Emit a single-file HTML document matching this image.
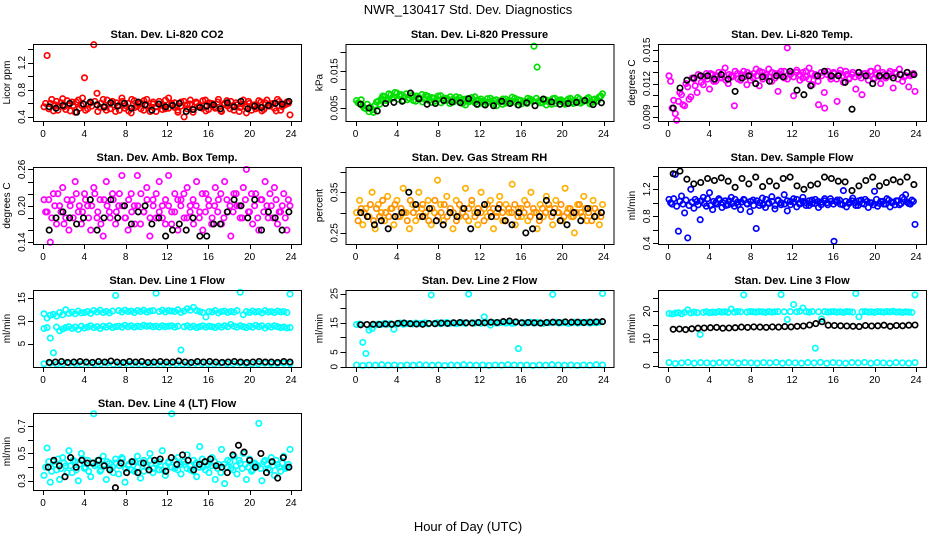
<!DOCTYPE html>
<html><head><meta charset="utf-8"><style>
html,body{margin:0;padding:0;background:#fff;}
svg{display:block;font-family:"Liberation Sans",sans-serif;}
</style></head><body>
<svg id="chart" width="936" height="540" viewBox="0 0 936 540">
<text x="468" y="14" text-anchor="middle" font-size="13">NWR_130417  Std. Dev. Diagnostics</text>
<text x="468" y="531" text-anchor="middle" font-size="13">Hour of Day (UTC)</text>
</svg>
<script>
const hourTicks = [0,4,8,12,16,20,24];

const co2Red = [0.55,1.31,0.60,0.49,0.63,0.56,0.67,0.51,0.58,0.62,0.47,0.65,0.57,0.98,0.52,0.61,1.47,0.75,0.54,0.66,0.50,0.59,0.63,0.48,0.57,0.68,0.53,0.60,0.46,0.64,0.56,0.61,0.50,0.66,0.55,0.59,0.48,0.63,0.57,0.52,0.68,0.60,0.54,0.47,0.62,0.40,0.58,0.65,0.51,0.60,0.55,0.64,0.49,0.61,0.57,0.53,0.66,0.48,0.60,0.56,0.63,0.50,0.58,0.54,0.65,0.46,0.60,0.57,0.52,0.64,0.49,0.61,0.56,0.59,0.53,0.66,0.50,0.58,0.62,0.43];
const co2Red2 = [0.60,0.52,0.66,0.58,0.50,0.61,0.55,0.64,0.49,0.57,0.62,0.53,0.68,0.50,0.59,0.56,0.63,0.48,0.60,0.54,0.65,0.52,0.58,0.61,0.50,0.63,0.57,0.49,0.66,0.54,0.60,0.52,0.64,0.57,0.48,0.62,0.55,0.59,0.51,0.65,0.53,0.58,0.61,0.50,0.56,0.63,0.52,0.59,0.47,0.62,0.57,0.53,0.65,0.51,0.60,0.55,0.62,0.49,0.58,0.64,0.52,0.57,0.61,0.48,0.59,0.55,0.63,0.50,0.58,0.54,0.62,0.51,0.65,0.56,0.60,0.49,0.63,0.55,0.58,0.60];
const co2Black = [0.55,0.53,0.57,0.60,0.47,0.59,0.62,0.58,0.55,0.61,0.56,0.60,0.53,0.62,0.58,0.50,0.59,0.55,0.57,0.60,0.48,0.51,0.54,0.56,0.58,0.52,0.61,0.55,0.63,0.52,0.56,0.54,0.57,0.60,0.59,0.63];

const pressGreen = [0.0070,0.0062,0.0055,0.0048,0.0040,0.0045,0.0058,0.0068,0.0075,0.0080,0.0072,0.0085,0.0078,0.0090,0.0082,0.0070,0.0088,0.0076,0.0084,0.0068,0.0079,0.0086,0.0073,0.0081,0.0065,0.0077,0.0072,0.0083,0.0069,0.0076,0.0062,0.0074,0.0080,0.0067,0.0073,0.0058,0.0070,0.0078,0.0064,0.0072,0.0068,0.0060,0.0075,0.0066,0.0071,0.0056,0.0069,0.0074,0.0063,0.0070,0.0079,0.0065,0.0072,0.0061,0.0068,0.0076,0.0070,0.0216,0.0160,0.0064,0.0073,0.0058,0.0069,0.0075,0.0062,0.0071,0.0067,0.0060,0.0074,0.0065,0.0070,0.0078,0.0063,0.0069,0.0075,0.0061,0.0072,0.0068,0.0080,0.0088];
const pressGreen2 = [0.0064,0.0072,0.0050,0.0060,0.0052,0.0038,0.0066,0.0060,0.0082,0.0070,0.0088,0.0076,0.0092,0.0074,0.0086,0.0080,0.0072,0.0090,0.0070,0.0082,0.0074,0.0066,0.0084,0.0070,0.0078,0.0068,0.0082,0.0064,0.0076,0.0070,0.0080,0.0066,0.0072,0.0078,0.0062,0.0074,0.0066,0.0070,0.0080,0.0060,0.0074,0.0068,0.0064,0.0076,0.0062,0.0072,0.0066,0.0060,0.0074,0.0064,0.0068,0.0076,0.0058,0.0070,0.0066,0.0062,0.0074,0.0068,0.0076,0.0070,0.0064,0.0072,0.0066,0.0060,0.0076,0.0068,0.0072,0.0064,0.0070,0.0076,0.0062,0.0068,0.0074,0.0066,0.0070,0.0078,0.0064,0.0074,0.0070,0.0082];
const pressBlack = [0.0060,0.0050,0.0042,0.0062,0.0065,0.0068,0.0090,0.0075,0.0060,0.0062,0.0070,0.0066,0.0064,0.0075,0.0060,0.0058,0.0056,0.0068,0.0062,0.0058,0.0064,0.0056,0.0074,0.0066,0.0060,0.0062,0.0065,0.0070,0.0059,0.0064];

const tempMagenta = [0.0127,0.0098,0.0093,0.0104,0.0110,0.0100,0.0117,0.0108,0.0124,0.0112,0.0127,0.0119,0.0129,0.0115,0.0128,0.0122,0.0130,0.0125,0.0134,0.0120,0.0127,0.0100,0.0129,0.0123,0.0131,0.0119,0.0128,0.0125,0.0133,0.0118,0.0130,0.0126,0.0133,0.0122,0.0129,0.0113,0.0131,0.0125,0.0152,0.0128,0.0109,0.0132,0.0123,0.0130,0.0126,0.0134,0.0119,0.0128,0.0101,0.0127,0.0098,0.0131,0.0124,0.0129,0.0104,0.0132,0.0121,0.0128,0.0125,0.0130,0.0115,0.0127,0.0110,0.0129,0.0123,0.0131,0.0125,0.0134,0.0120,0.0128,0.0126,0.0131,0.0116,0.0129,0.0133,0.0122,0.0127,0.0117,0.0128,0.0113];
const tempMagenta2 = [0.0122,0.0105,0.0087,0.0112,0.0101,0.0120,0.0106,0.0125,0.0118,0.0128,0.0121,0.0126,0.0124,0.0129,0.0122,0.0127,0.0125,0.0130,0.0123,0.0128,0.0126,0.0131,0.0124,0.0128,0.0126,0.0130,0.0123,0.0129,0.0127,0.0131,0.0124,0.0128,0.0126,0.0130,0.0125,0.0129,0.0127,0.0131,0.0124,0.0129,0.0126,0.0130,0.0128,0.0125,0.0131,0.0124,0.0129,0.0127,0.0122,0.0130,0.0112,0.0128,0.0126,0.0130,0.0124,0.0129,0.0127,0.0131,0.0124,0.0128,0.0126,0.0130,0.0125,0.0129,0.0127,0.0131,0.0124,0.0128,0.0126,0.0130,0.0125,0.0129,0.0127,0.0130,0.0124,0.0128,0.0126,0.0130,0.0127,0.0129];
const tempBlack = [0.0098,0.0116,0.0123,0.0125,0.0127,0.0127,0.0124,0.0128,0.0124,0.0113,0.0125,0.0127,0.0120,0.0126,0.0122,0.0127,0.0126,0.0131,0.0114,0.0110,0.0118,0.0127,0.0131,0.0127,0.0127,0.0121,0.0097,0.0130,0.0127,0.0120,0.0127,0.0127,0.0125,0.0128,0.0130,0.0128];

const ambMagenta = [0.21,0.19,0.14,0.22,0.17,0.20,0.23,0.18,0.16,0.21,0.24,0.19,0.17,0.22,0.20,0.16,0.23,0.18,0.21,0.15,0.24,0.19,0.22,0.17,0.20,0.25,0.18,0.16,0.22,0.20,0.25,0.17,0.19,0.23,0.15,0.21,0.18,0.24,0.20,0.17,0.25,0.19,0.22,0.16,0.21,0.18,0.23,0.20,0.17,0.24,0.19,0.16,0.22,0.20,0.18,0.23,0.21,0.17,0.24,0.19,0.15,0.22,0.20,0.18,0.23,0.26,0.19,0.17,0.22,0.16,0.21,0.24,0.18,0.20,0.23,0.17,0.19,0.22,0.16,0.20];
const ambMagenta2 = [0.19,0.21,0.18,0.20,0.22,0.19,0.17,0.21,0.20,0.18,0.22,0.20,0.19,0.21,0.18,0.20,0.22,0.19,0.17,0.21,0.20,0.18,0.21,0.19,0.22,0.20,0.18,0.21,0.19,0.17,0.20,0.22,0.19,0.21,0.18,0.20,0.22,0.19,0.18,0.21,0.20,0.17,0.19,0.21,0.20,0.22,0.18,0.19,0.21,0.20,0.18,0.22,0.19,0.21,0.17,0.20,0.19,0.22,0.18,0.21,0.20,0.19,0.22,0.20,0.18,0.21,0.19,0.22,0.20,0.18,0.21,0.19,0.20,0.22,0.18,0.21,0.19,0.20,0.18,0.21];
const ambBlack = [0.16,0.18,0.19,0.18,0.17,0.18,0.21,0.16,0.18,0.21,0.18,0.20,0.17,0.19,0.20,0.17,0.18,0.15,0.16,0.17,0.16,0.18,0.15,0.15,0.17,0.17,0.19,0.21,0.20,0.18,0.21,0.16,0.19,0.18,0.16,0.19];

const rhOrange = [0.30,0.33,0.27,0.31,0.29,0.35,0.26,0.32,0.30,0.28,0.34,0.31,0.27,0.33,0.29,0.36,0.30,0.26,0.32,0.28,0.35,0.31,0.29,0.33,0.27,0.30,0.38,0.32,0.28,0.34,0.30,0.26,0.33,0.29,0.31,0.36,0.28,0.32,0.30,0.27,0.35,0.31,0.29,0.33,0.26,0.30,0.34,0.28,0.32,0.30,0.37,0.27,0.31,0.29,0.33,0.28,0.35,0.30,0.26,0.32,0.29,0.34,0.31,0.27,0.33,0.30,0.28,0.36,0.31,0.29,0.25,0.32,0.30,0.34,0.28,0.31,0.33,0.29,0.27,0.32];
const rhOrange2 = [0.28,0.31,0.30,0.29,0.32,0.28,0.31,0.29,0.33,0.30,0.29,0.31,0.32,0.29,0.31,0.30,0.28,0.33,0.30,0.31,0.29,0.32,0.30,0.28,0.31,0.33,0.29,0.30,0.32,0.29,0.31,0.30,0.28,0.32,0.30,0.29,0.31,0.33,0.29,0.31,0.30,0.28,0.32,0.30,0.31,0.29,0.32,0.30,0.28,0.31,0.30,0.32,0.29,0.31,0.30,0.32,0.29,0.31,0.30,0.28,0.31,0.30,0.32,0.29,0.31,0.30,0.32,0.29,0.30,0.31,0.29,0.30,0.32,0.29,0.31,0.30,0.28,0.31,0.30,0.29];
const rhBlack = [0.30,0.29,0.27,0.28,0.26,0.29,0.30,0.35,0.32,0.29,0.31,0.28,0.27,0.30,0.29,0.31,0.26,0.30,0.32,0.29,0.31,0.28,0.27,0.30,0.25,0.26,0.29,0.33,0.30,0.28,0.27,0.30,0.28,0.31,0.29,0.30];

const flowBlue = [1.05,0.98,1.42,0.58,1.10,0.85,0.48,1.20,0.92,1.02,0.75,1.08,0.95,1.15,0.90,1.00,1.06,0.93,1.03,0.97,1.08,0.95,1.01,0.90,1.05,0.99,0.87,1.04,0.62,0.96,1.07,0.93,1.00,1.09,0.91,1.03,0.97,1.12,0.88,1.02,1.06,0.94,1.00,1.08,0.96,1.03,0.99,1.05,0.93,1.01,1.06,0.97,1.02,0.43,1.04,0.98,1.18,0.94,1.01,1.07,0.96,1.03,0.99,1.05,0.93,1.00,1.17,0.95,1.02,0.98,1.06,0.94,1.01,1.03,0.97,1.08,1.12,0.99,1.04,0.68];
const flowBlue2 = [1.00,1.06,0.95,1.02,0.98,1.04,0.96,1.01,1.05,0.97,1.03,0.99,1.06,0.96,1.02,0.98,1.04,1.00,0.96,1.03,0.99,1.05,0.97,1.01,1.04,0.98,1.02,0.96,1.03,1.00,0.97,1.05,0.99,1.02,0.96,1.04,1.00,0.98,1.03,0.97,1.01,1.05,0.98,1.02,1.00,0.96,1.04,0.99,1.02,0.97,1.03,1.00,1.06,0.98,1.01,1.04,0.97,1.02,0.99,1.03,1.00,0.96,1.04,0.98,1.02,1.00,0.97,1.05,0.99,1.02,0.98,1.04,1.00,0.97,1.03,0.99,1.05,1.01,0.98,1.02];
const flowBlack = [1.43,1.47,1.35,1.28,1.30,1.36,1.33,1.37,1.32,1.23,1.36,1.28,1.38,1.24,1.32,1.25,1.36,1.38,1.25,1.20,1.26,1.28,1.38,1.36,1.32,1.31,1.18,1.25,1.33,1.38,1.25,1.30,1.34,1.31,1.38,1.27];

const line1High = [11.5,10.6,11.2,11.4,11.0,11.8,11.3,12.4,11.6,11.9,11.5,12.1,11.7,11.8,12.0,11.6,12.2,11.9,12.3,11.8,12.0,11.7,12.1,15.5,12.2,11.9,12.3,12.0,12.1,11.8,12.2,12.0,12.3,11.9,12.1,12.2,16.0,12.0,12.3,11.9,12.2,12.1,12.0,12.4,11.8,12.1,12.6,12.3,12.9,12.2,12.0,11.8,10.8,12.0,11.9,12.2,11.7,12.0,12.1,11.8,12.0,11.9,12.2,16.2,11.3,12.0,11.8,12.1,11.9,12.0,11.7,12.2,11.9,12.0,11.8,12.1,11.9,12.0,11.8,15.8];
const line1Mid = [8.3,8.5,6.2,3.0,8.6,7.8,8.2,8.5,8.7,8.3,8.6,8.1,8.8,8.4,8.6,8.9,8.5,8.7,8.3,8.8,8.6,8.9,8.5,8.7,8.8,8.6,9.0,8.7,8.9,8.6,8.8,8.7,9.0,8.8,8.9,8.7,8.8,8.6,8.9,8.7,8.8,8.9,8.6,8.8,3.6,8.7,8.9,8.6,8.8,8.5,8.7,8.9,8.6,8.8,8.7,8.5,8.8,8.6,8.9,8.7,9.2,8.8,8.6,8.9,8.7,8.5,8.8,8.6,9.0,8.7,8.9,8.4,8.8,8.6,8.9,8.7,8.5,8.6,8.4,8.5];
const line1Low = [0.6,0.7,0.5,0.6,0.7,0.6,0.5,0.7,0.6,0.6,0.7,0.5,0.6,0.7,0.6,0.6,0.5,0.7,0.6,0.6,0.7,0.6,0.5,0.6,0.7,0.6,0.6,0.5,0.7,0.6,0.6,0.7,0.6,0.5,0.6,0.7,0.6,0.6,0.7,0.6];
const line1Black = [0.9,1.0,1.1,0.9,1.0,1.1,1.0,0.9,1.1,1.0,1.2,1.0,0.9,1.1,1.0,1.1,0.9,1.0,1.1,1.0,1.0,1.2,1.0,0.9,1.1,1.0,1.1,1.0,0.9,1.0,1.1,1.0,0.9,1.0,1.1,1.0,1.0,0.9,1.1,1.0];

const line2Main = [14.4,14.6,8.3,4.5,12.5,13.0,14.2,14.6,14.4,14.8,14.5,14.7,12.8,14.6,14.9,14.5,14.7,14.8,14.6,14.9,14.7,14.8,15.0,14.6,24.5,14.8,15.0,14.7,14.9,15.1,14.8,15.0,14.7,14.9,15.0,14.8,24.8,15.0,14.9,15.1,14.8,17.0,15.0,14.2,15.1,14.9,15.0,15.2,14.9,15.1,14.8,15.0,6.2,15.1,14.9,15.0,15.2,14.9,15.1,15.0,14.8,15.1,15.0,24.7,15.2,14.9,15.0,15.1,14.8,15.0,15.2,14.9,15.1,15.0,15.2,14.9,15.1,15.0,15.2,25.0];
const line2Low = [0.6,0.4,0.6,0.5,0.7,0.5,0.6,0.4,0.6,0.5,0.7,0.6,0.5,0.6,0.4,0.6,0.5,0.7,0.6,0.5,0.6,0.4,0.6,0.5,0.7,0.6,0.5,0.6,0.4,0.6,0.5,0.7,0.6,0.5,0.6,0.4,0.6,0.5,0.7,0.6];
const line2Black = [14.3,14.4,14.5,14.4,14.6,14.5,14.8,14.9,14.7,14.6,14.5,14.8,14.7,14.9,14.8,15.0,15.1,15.0,14.9,15.1,15.0,15.2,15.1,15.4,15.6,15.3,15.0,15.1,15.0,14.9,15.1,15.2,15.1,15.3,15.2,15.2,15.1,15.2,15.3,15.4];

const line3Main = [19.2,19.0,19.3,19.5,19.1,19.6,20.5,19.4,19.7,19.5,11.5,19.6,19.8,19.5,19.7,19.6,19.9,19.7,19.8,19.6,20.8,19.7,19.9,19.8,26.0,19.7,19.9,19.8,19.7,19.9,19.8,19.6,19.9,19.7,19.8,19.9,26.1,19.8,17.0,19.9,22.5,19.8,20.0,21.2,19.9,19.7,19.9,6.5,19.8,17.2,19.9,19.7,19.8,19.9,19.7,19.8,19.6,19.9,19.8,19.7,26.5,18.0,19.8,19.9,19.7,19.8,19.6,19.9,19.8,19.7,19.9,19.8,20.0,19.7,19.8,19.6,19.8,19.7,19.6,26.0];
const line3Low = [1.2,0.9,1.1,1.3,1.0,1.2,1.1,1.0,1.2,1.1,1.3,1.0,1.2,1.1,1.0,1.2,1.1,1.3,1.0,1.2,1.1,1.0,1.2,1.1,1.3,1.0,1.2,1.1,1.0,1.2,1.1,1.3,1.0,1.2,1.1,1.0,1.2,1.1,1.0,1.2];
const line3Black = [13.4,13.5,13.3,13.6,13.8,13.9,14.0,14.1,13.8,13.9,14.0,14.2,14.1,14.3,14.2,14.1,14.3,14.2,14.4,14.3,14.5,14.6,15.0,15.5,16.2,14.9,14.8,14.7,14.6,14.5,14.4,14.8,14.6,14.7,14.9,14.5,14.8,14.7,14.9,15.0];

const line4Cyan = [0.34,0.54,0.29,0.44,0.38,0.31,0.47,0.41,0.52,0.36,0.44,0.30,0.50,0.39,0.45,0.33,0.79,0.42,0.37,0.48,0.31,0.43,0.40,0.46,0.35,0.47,0.29,0.41,0.44,0.37,0.48,0.32,0.45,0.40,0.50,0.36,0.43,0.38,0.52,0.34,0.44,0.79,0.39,0.47,0.35,0.42,0.49,0.38,0.45,0.33,0.55,0.40,0.44,0.36,0.47,0.31,0.42,0.53,0.28,0.45,0.39,0.48,0.35,0.43,0.50,0.31,0.46,0.38,0.42,0.72,0.30,0.45,0.39,0.47,0.34,0.42,0.37,0.48,0.40,0.53];
const line4Cyan2 = [0.40,0.44,0.37,0.42,0.46,0.39,0.43,0.36,0.41,0.45,0.38,0.42,0.46,0.40,0.37,0.43,0.41,0.45,0.38,0.42,0.44,0.39,0.36,0.43,0.41,0.46,0.39,0.42,0.38,0.44,0.40,0.43,0.37,0.41,0.45,0.39,0.42,0.44,0.38,0.41,0.43,0.40,0.45,0.38,0.42,0.44,0.39,0.41,0.37,0.43,0.40,0.46,0.38,0.42,0.41,0.44,0.39,0.36,0.42,0.40,0.44,0.38,0.41,0.45,0.39,0.42,0.40,0.37,0.43,0.41,0.39,0.44,0.42,0.38,0.41,0.45,0.40,0.43,0.39,0.42];
const line4Black = [0.40,0.45,0.41,0.33,0.47,0.40,0.45,0.43,0.43,0.45,0.41,0.38,0.25,0.43,0.36,0.44,0.36,0.43,0.38,0.45,0.46,0.37,0.47,0.42,0.49,0.45,0.38,0.42,0.44,0.46,0.41,0.40,0.36,0.49,0.56,0.51,0.45,0.40,0.50,0.36,0.44,0.32,0.47,0.40];

const NS = 'http://www.w3.org/2000/svg';
const svg = document.getElementById('chart');
function mk(tag, attrs, parent) {
  const e = document.createElementNS(NS, tag);
  for (const k in attrs) e.setAttribute(k, attrs[k]);
  (parent || svg).appendChild(e);
  return e;
}

const colLeft = [33, 345.5, 658];
const rowTop = [44, 167, 290, 413];
const boxW = 268, boxH = 77;

const panels = [
  {title:'Stan. Dev. Li-820 CO2', ylab:'Licor ppm', col:0, row:0, ylim:[0.34,1.48], ticks:[0.4,0.6,0.8,1.0,1.2,1.4], labels:[0.4,0.8,1.2], dec:1,
   series:[{v:co2Red,c:'#ff0000',x0:0.1,x1:23.9},{v:co2Red2,c:'#ff0000',x0:0.25,x1:23.75},{v:co2Black,c:'#000',x0:0.6,x1:23.8}]},
  {title:'Stan. Dev. Li-820 Pressure', ylab:'kPa', col:1, row:0, ylim:[0.0015,0.0222], ticks:[0.005,0.010,0.015,0.020], labels:[0.005,0.015], dec:3,
   series:[{v:pressGreen,c:'#00e000',x0:0.1,x1:23.9},{v:pressGreen2,c:'#00e000',x0:0.25,x1:23.75},{v:pressBlack,c:'#000',x0:0.5,x1:23.8}]},
  {title:'Stan. Dev. Li-820 Temp.', ylab:'degrees C', col:2, row:0, ylim:[0.00864,0.01555], ticks:[0.008,0.009,0.010,0.011,0.012,0.013,0.014,0.015], labels:[0.009,0.012,0.015], dec:3,
   series:[{v:tempMagenta,c:'#ff00ff',x0:0.1,x1:23.9},{v:tempMagenta2,c:'#ff00ff',x0:0.25,x1:23.75},{v:tempBlack,c:'#000',x0:0.5,x1:23.8}]},
  {title:'Stan. Dev. Amb. Box Temp.', ylab:'degrees C', col:0, row:1, ylim:[0.137,0.264], ticks:[0.14,0.16,0.18,0.20,0.22,0.24,0.26], labels:[0.14,0.20,0.26], dec:2,
   series:[{v:ambMagenta,c:'#ff00ff',x0:0.1,x1:23.9},{v:ambMagenta2,c:'#ff00ff',x0:0.25,x1:23.75},{v:ambBlack,c:'#000',x0:0.6,x1:23.8}]},
  {title:'Stan. Dev. Gas Stream RH', ylab:'percent', col:1, row:1, ylim:[0.2225,0.4125], ticks:[0.25,0.30,0.35,0.40], labels:[0.25,0.35], dec:2,
   series:[{v:rhOrange,c:'#ffb000',x0:0.1,x1:23.9},{v:rhOrange2,c:'#ff9000',x0:0.25,x1:23.75},{v:rhBlack,c:'#000',x0:0.5,x1:23.8}]},
  {title:'Stan. Dev. Sample Flow', ylab:'ml/min', col:2, row:1, ylim:[0.39,1.53], ticks:[0.4,0.6,0.8,1.0,1.2,1.4], labels:[0.4,0.8,1.2], dec:1,
   series:[{v:flowBlue,c:'#0000ff',x0:0.1,x1:23.9},{v:flowBlue2,c:'#0000ff',x0:0.25,x1:23.75},{v:flowBlack,c:'#000',x0:0.5,x1:23.8}]},
  {title:'Stan. Dev. Line 1 Flow', ylab:'ml/min', col:0, row:2, ylim:[-0.1,16.7], ticks:[5,10,15], labels:[5,10,15], dec:0,
   series:[{v:line1High,c:'#00ffff',x0:0.1,x1:23.9},{v:line1Mid,c:'#00ffff',x0:0.1,x1:23.9},{v:line1Low,c:'#00ffff',x0:0.1,x1:23.9},{v:line1Black,c:'#000',x0:0.6,x1:23.9}]},
  {title:'Stan. Dev. Line 2 Flow', ylab:'ml/min', col:1, row:2, ylim:[-0.1,26.2], ticks:[0,5,10,15,20,25], labels:[0,5,15,25], dec:0,
   series:[{v:line2Main,c:'#00ffff',x0:0.1,x1:23.9},{v:line2Low,c:'#00ffff',x0:0.1,x1:23.9},{v:line2Black,c:'#000',x0:0.5,x1:23.9}]},
  {title:'Stan. Dev. Line 3 Flow', ylab:'ml/min', col:2, row:2, ylim:[-0.4,27.8], ticks:[0,5,10,15,20,25], labels:[0,10,20], dec:0,
   series:[{v:line3Main,c:'#00ffff',x0:0.1,x1:23.9},{v:line3Low,c:'#00ffff',x0:0.1,x1:23.9},{v:line3Black,c:'#000',x0:0.5,x1:23.9}]},
  {title:'Stan. Dev. Line 4 (LT) Flow', ylab:'ml/min', col:0, row:3, ylim:[0.233,0.796], ticks:[0.3,0.4,0.5,0.6,0.7], labels:[0.3,0.5,0.7], dec:1,
   series:[{v:line4Cyan,c:'#00ffff',x0:0.1,x1:23.9},{v:line4Cyan2,c:'#00ffff',x0:0.25,x1:23.75},{v:line4Black,c:'#000',x0:0.5,x1:23.8}]}
];

panels.forEach((p, pi) => {
  const L = colLeft[p.col], T = rowTop[p.row];
  const g = mk('g', {});
  
  
  const xs = h => L + 10 + (h / 24) * 248;
  const ys = v => T + boxH - (v - p.ylim[0]) / (p.ylim[1] - p.ylim[0]) * boxH;

  const t = mk('text', {x: L + boxW / 2, y: T - 6, 'text-anchor': 'middle', 'font-size': 11, 'font-weight': 'bold'}, g);
  t.textContent = p.title;
  
  

  const yl = mk('text', {x: 0, y: 0, 'text-anchor': 'middle', 'font-size': 10, transform: `translate(${L - 23},${T + boxH / 2}) rotate(-90)`}, g);
  yl.textContent = p.ylab;
  
  

  const pts = mk('g', {fill: 'none', 'stroke-width': 1.7}, g);
  
  
  p.series.forEach(s => {
    const n = s.v.length;
    s.v.forEach((v, i) => {
      const h = s.x0 + (s.x1 - s.x0) * (n > 1 ? i / (n - 1) : 0);
      const y = ys(v);
      if (y < T - 1 || y > T + boxH + 1) return;
      const c = mk('circle', {cx: xs(h).toFixed(1), cy: y.toFixed(1), r: 2.7, stroke: s.c}, pts);
      
      
    });
  });

  const box = mk('rect', {x: L + 0.5, y: T + 0.5, width: boxW, height: boxH, fill: 'none', stroke: '#000', 'stroke-width': 1}, g);
  
  

  const xa = mk('g', {}, g);
  
  
  mk('line', {x1: xs(0), x2: xs(24), y1: T + boxH + 0.5, y2: T + boxH + 0.5, stroke: '#000'}, xa);
  hourTicks.forEach(h => {
    mk('line', {x1: Math.round(xs(h)) + 0.5, x2: Math.round(xs(h)) + 0.5, y1: T + boxH, y2: T + boxH + 5, stroke: '#000'}, xa);
    const tl = mk('text', {x: xs(h), y: T + boxH + 16, 'text-anchor': 'middle', 'font-size': 10}, xa);
    tl.textContent = h;
    
    
  });

  const ya = mk('g', {}, g);
  
  
  p.ticks.forEach(v => {
    const y = ys(v);
    if (y < T - 0.5 || y > T + boxH + 0.5) return;
    mk('line', {x1: L - 5, x2: L, y1: Math.round(y) + 0.5, y2: Math.round(y) + 0.5, stroke: '#000'}, ya);
  });
  p.labels.forEach(v => {
    const y = ys(v);
    const tl = mk('text', {x: 0, y: 0, 'text-anchor': 'middle', 'font-size': 10, transform: `translate(${L - 8},${y}) rotate(-90)`}, ya);
    tl.textContent = v.toFixed(p.dec);
    
    
  });
});
</script>
</body></html>
